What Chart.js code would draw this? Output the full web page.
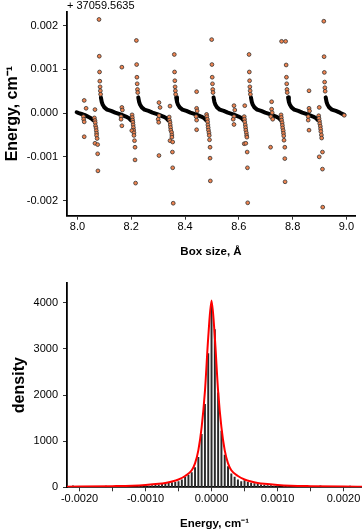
<!DOCTYPE html>
<html>
<head>
<meta charset="utf-8">
<script src="https://cdn.jsdelivr.net/npm/chart.js@4.4.1/dist/chart.umd.min.js"></script>
<style>
  html, body { margin: 0; padding: 0; background: #fff; }
  #wrap { position: relative; width: 362px; height: 531px; }
  #scanChart { position: absolute; left: 0; top: 0; }
  #histChart { position: absolute; left: 0; top: 265px; }
</style>
</head>
<body>
<div id="wrap">
  <canvas id="scanChart" width="362" height="265"></canvas>
  <canvas id="histChart" width="362" height="266"></canvas>
</div>
<script>
// energies are in units of 1e-3 cm-1 (top: relative to 37059.5635)

// dense part of the scan (drawn as a thick band), null = break
const curveBox = [
  7.997, 8.005, 8.015, 8.025, 8.035, 8.045, 8.053, 8.058, 8.058,
  8.087, 8.090, 8.094, 8.100, 8.110, 8.125, 8.140, 8.160, 8.180, 8.192, 8.198, 8.198,
  8.226, 8.229, 8.233, 8.239, 8.249, 8.264, 8.279, 8.299, 8.319, 8.331, 8.337, 8.337,
  8.367, 8.370, 8.374, 8.380, 8.390, 8.405, 8.420, 8.440, 8.460, 8.472, 8.478, 8.478,
  8.506, 8.509, 8.513, 8.519, 8.529, 8.544, 8.559, 8.579, 8.599, 8.611, 8.617, 8.617,
  8.645, 8.648, 8.652, 8.658, 8.668, 8.683, 8.698, 8.718, 8.738, 8.750, 8.756, 8.756,
  8.783, 8.786, 8.790, 8.796, 8.806, 8.821, 8.836, 8.856, 8.876, 8.888, 8.894, 8.894,
  8.923, 8.926, 8.930, 8.936, 8.946, 8.961, 8.976, 8.992
];
const curveEnergy = [
  0.02, 0.00, -0.02, -0.04, -0.07, -0.10, -0.13, -0.16, null,
  0.36, 0.26, 0.19, 0.13, 0.08, 0.05, 0.01, -0.03, -0.08, -0.12, -0.16, null,
  0.36, 0.26, 0.19, 0.13, 0.08, 0.05, 0.01, -0.03, -0.08, -0.12, -0.16, null,
  0.36, 0.26, 0.19, 0.13, 0.08, 0.05, 0.01, -0.03, -0.08, -0.12, -0.16, null,
  0.36, 0.26, 0.19, 0.13, 0.08, 0.05, 0.01, -0.03, -0.08, -0.12, -0.16, null,
  0.36, 0.26, 0.19, 0.13, 0.08, 0.05, 0.01, -0.03, -0.08, -0.12, -0.16, null,
  0.36, 0.26, 0.19, 0.13, 0.08, 0.05, 0.01, -0.03, -0.08, -0.12, -0.16, null,
  0.36, 0.26, 0.19, 0.13, 0.08, 0.05, 0.01, -0.04
];

// separate points (steep parts and outliers)
const dotBox = [
  8.025, 8.032, 8.022, 8.023, 8.025, 8.025, 8.065, 8.063, 8.065, 8.066, 8.067, 8.069, 8.070, 8.071, 8.071, 8.073, 8.065, 8.075, 8.075, 8.076, 8.080, 8.081, 8.082, 8.083, 8.084, 8.085, 8.086,
  8.165, 8.165, 8.167, 8.162, 8.162, 8.165, 8.203, 8.204, 8.205, 8.206, 8.207, 8.208, 8.209, 8.202, 8.210, 8.210, 8.212, 8.214, 8.214, 8.216, 8.219, 8.220, 8.221, 8.222, 8.223, 8.224,
  8.303, 8.307, 8.303, 8.300, 8.302, 8.303, 8.344, 8.341, 8.342, 8.344, 8.345, 8.346, 8.347, 8.350, 8.351, 8.351, 8.344, 8.354, 8.353, 8.354, 8.356, 8.360, 8.361, 8.362, 8.363, 8.364, 8.365,
  8.443, 8.443, 8.445, 8.441, 8.443, 8.443, 8.480, 8.481, 8.483, 8.484, 8.485, 8.486, 8.487, 8.489, 8.490, 8.491, 8.493, 8.493, 8.494, 8.499, 8.500, 8.501, 8.502, 8.503, 8.504,
  8.582, 8.585, 8.582, 8.579, 8.582, 8.622, 8.620, 8.621, 8.622, 8.624, 8.625, 8.626, 8.628, 8.629, 8.630, 8.620, 8.626, 8.631, 8.632, 8.633, 8.638, 8.639, 8.640, 8.641, 8.642, 8.643,
  8.722, 8.722, 8.724, 8.719, 8.726, 8.718, 8.759, 8.757, 8.758, 8.759, 8.761, 8.762, 8.763, 8.765, 8.766, 8.767, 8.768, 8.771, 8.771, 8.772, 8.774, 8.776, 8.777, 8.778, 8.779, 8.780,
  8.861, 8.861, 8.863, 8.858, 8.858, 8.861, 8.899, 8.897, 8.898, 8.900, 8.901, 8.903, 8.904, 8.905, 8.907, 8.908, 8.899, 8.911, 8.911, 8.912, 8.916, 8.917, 8.918, 8.919, 8.920, 8.921, 8.992
];
const dotEnergy = [
  0.29, 0.11, -0.08, -0.14, -0.20, -0.54, 0.08, -0.11, -0.17, -0.22, -0.29, -0.34, -0.40, -0.46, -0.51, -0.58, -0.69, -0.72, -0.93, -1.32, 2.14, 1.30, 0.94, 0.73, 0.60, 0.51, 0.43,
  1.05, 0.13, 0.07, -0.08, -0.14, -0.29, -0.04, -0.10, -0.16, -0.21, -0.27, -0.33, -0.39, -0.40, -0.45, -0.51, -0.63, -0.78, -1.07, -1.60, 1.66, 1.11, 0.82, 0.67, 0.54, 0.47,
  0.24, 0.13, -0.06, -0.14, -0.21, -0.97, 0.16, -0.09, -0.16, -0.21, -0.27, -0.33, -0.39, -0.44, -0.50, -0.55, -0.63, -0.66, -0.89, -1.25, -2.06, 1.34, 0.94, 0.74, 0.60, 0.51, 0.43,
  0.49, 0.11, 0.05, -0.08, -0.16, -0.38, -0.03, -0.08, -0.14, -0.20, -0.27, -0.33, -0.39, -0.45, -0.51, -0.61, -0.78, -1.03, -1.55, 1.68, 1.11, 0.82, 0.67, 0.54, 0.47,
  0.17, 0.07, -0.08, -0.14, -0.26, 0.17, -0.08, -0.14, -0.20, -0.27, -0.33, -0.39, -0.45, -0.51, -0.55, -0.70, -0.69, -0.89, -1.25, -2.05, 1.34, 0.94, 0.74, 0.60, 0.51, 0.43,
  0.26, 0.09, 0.01, -0.08, -0.14, -0.78, 1.64, -0.04, -0.10, -0.16, -0.22, -0.28, -0.34, -0.40, -0.46, -0.52, -0.62, -0.78, -1.04, -1.57, 1.64, 1.10, 0.82, 0.67, 0.54, 0.47,
  0.51, 0.11, 0.05, -0.08, -0.16, -0.39, 0.13, -0.06, -0.12, -0.18, -0.24, -0.30, -0.36, -0.42, -0.50, -0.57, -1.00, -0.89, -1.28, -2.15, 2.10, 1.29, 0.93, 0.71, 0.58, 0.50, -0.05
];
const boxTicks = [8.0, 8.2, 8.4, 8.6, 8.8, 9.0];
const energyTicks = [-2, -1, 0, 1, 2];

// histogram of the energies
const binEnergy = [
  -2.10, -1.60, -1.30, -1.10, -1.05, -1.00, -0.95, -0.90, -0.85, -0.80, -0.75, -0.70, -0.65, -0.60,
  -0.55, -0.50, -0.45, -0.40, -0.35, -0.30, -0.25, -0.20, -0.15, -0.10, -0.05, 0.00,
  0.05, 0.10, 0.15, 0.20, 0.25, 0.30, 0.35, 0.40, 0.45, 0.50, 0.55, 0.60, 0.65, 0.70,
  0.75, 0.80, 0.85, 0.90, 0.95, 1.00, 1.10, 1.15, 1.30, 1.50, 1.65, 2.10
];
const binDensity = [
  30, 25, 20, 25, 20, 35, 25, 40, 45, 55, 80, 85, 95, 100,
  110, 125, 160, 215, 265, 320, 430, 650, 1150, 1800, 2900, 3950,
  3420, 2050, 1220, 700, 450, 290, 220, 160, 125, 145, 110, 90, 80, 70,
  55, 50, 40, 35, 25, 30, 25, 20, 25, 20, 30, 25
];
// fitted curve (red)
const fitEnergy = [-2.3, -2.0, -1.5, -1.2, -1.0, -0.8, -0.7, -0.6, -0.5, -0.4, -0.3, -0.25, -0.2, -0.15, -0.1, -0.05, 0,
  0.05, 0.1, 0.15, 0.2, 0.25, 0.3, 0.4, 0.5, 0.6, 0.7, 0.8, 1.0, 1.2, 1.5, 2.0, 2.3];
const fitDensity = [12, 15, 25, 35, 50, 75, 95, 125, 170, 245, 370, 520, 800, 1300, 2080, 3250, 4050,
  3250, 2080, 1300, 800, 520, 370, 245, 170, 125, 95, 75, 50, 35, 25, 15, 12];
const histTicks = [-2, -1.5, -1, -0.5, 0, 0.5, 1, 1.5, 2];
const densityTicks = [0, 1000, 2000, 3000, 4000];

Chart.defaults.font.family = '"Liberation Sans", Arial, sans-serif';
Chart.defaults.color = '#000';

function xy(xs, ys) {
    return xs.map(function(x, i) { return { x: x, y: ys[i] }; });
}

// R-like axis: L-shaped border, short outward ticks, no grid
const tickGrid = { drawOnChartArea: false, drawTicks: true, tickLength: 4, tickWidth: 1, tickColor: '#333' };
const axisBorder = { display: true, color: '#000', width: 1.8 };

// offset note above the energy axis
const offsetLabel = {
    id: 'offsetLabel',
    afterDraw(chart) {
        const ctx = chart.ctx;
        ctx.save();
        ctx.font = '11px "Liberation Sans", Arial, sans-serif';
        ctx.fillStyle = '#000';
        ctx.textBaseline = 'middle';
        ctx.fillText('+ 37059.5635', chart.chartArea.left, 6);
        ctx.restore();
    }
};

new Chart(document.getElementById('scanChart'), {
    type: 'scatter',
    data: {
        datasets: [
            {
                data: xy(dotBox, dotEnergy),
                pointRadius: 1.9,
                pointBackgroundColor: '#ef8450',
                pointBorderColor: '#333',
                pointBorderWidth: 0.8,
                order: 0
            },
            {
                data: xy(curveBox, curveEnergy),
                showLine: true,
                spanGaps: false,
                borderColor: '#000',
                borderWidth: 4,
                borderCapStyle: 'round',
                borderJoinStyle: 'round',
                pointRadius: 0,
                order: 1
            }
        ]
    },
    options: {
        responsive: false,
        animation: false,
        events: [],
        layout: { padding: { left: 0, right: 7, top: 10, bottom: 0 } },
        plugins: { legend: { display: false }, tooltip: { enabled: false } },
        scales: {
            x: {
                type: 'linear', min: 7.961, max: 9.032,
                afterFit: function(s) { s.height = 49.3; },
                afterBuildTicks: function(s) { s.ticks = boxTicks.map(function(v) { return { value: v }; }); },
                ticks: { callback: function(v) { return v.toFixed(1); }, font: { size: 11 }, padding: 1, maxRotation: 0, autoSkip: false },
                grid: tickGrid,
                border: axisBorder,
                title: { display: true, text: 'Box size, Å', font: { size: 11.5, weight: 'bold' }, padding: { top: 0, bottom: 6 } }
            },
            y: {
                type: 'linear', min: -2.345, max: 2.32,
                afterFit: function(s) { s.width = 67; },
                afterBuildTicks: function(s) { s.ticks = energyTicks.map(function(v) { return { value: v }; }); },
                ticks: { callback: function(v) { return (v / 1000).toFixed(3); }, font: { size: 11 }, padding: 5, autoSkip: false },
                grid: tickGrid,
                border: axisBorder,
                title: { display: true, text: 'Energy, cm⁻¹', font: { size: 16, weight: 'bold' }, padding: { top: 3, bottom: 0 } }
            }
        }
    },
    plugins: [offsetLabel]
});

new Chart(document.getElementById('histChart'), {
    type: 'bar',
    data: {
        datasets: [
            {
                type: 'line',
                data: xy(fitEnergy, fitDensity),
                borderColor: '#ff0000',
                borderWidth: 2,
                pointRadius: 0,
                cubicInterpolationMode: 'monotone',
                order: 0
            },
            {
                type: 'bar',
                data: xy(binEnergy, binDensity),
                backgroundColor: '#2a2a2a',
                barThickness: 1.3,
                order: 1
            }
        ]
    },
    options: {
        responsive: false,
        animation: false,
        events: [],
        layout: { padding: { left: 0, right: 0, top: 18, bottom: 0 } },
        plugins: { legend: { display: false }, tooltip: { enabled: false } },
        scales: {
            x: {
                type: 'linear', min: -2.19, max: 2.28, offset: false,
                afterFit: function(s) { s.height = 43.7; },
                afterBuildTicks: function(s) { s.ticks = histTicks.map(function(v) { return { value: v }; }); },
                ticks: {
                    callback: function(v) { return Number.isInteger(v) ? (v / 1000).toFixed(4) : ''; },
                    font: { size: 11 }, padding: 1, maxRotation: 0, autoSkip: false
                },
                grid: Object.assign({}, tickGrid, { offset: false }),
                border: axisBorder,
                title: { display: true, text: 'Energy, cm⁻¹', font: { size: 11.5, weight: 'bold' }, padding: { top: 0, bottom: 0 } }
            },
            y: {
                type: 'linear', min: 0, max: 4430,
                afterFit: function(s) { s.width = 67; },
                afterBuildTicks: function(s) { s.ticks = densityTicks.map(function(v) { return { value: v }; }); },
                ticks: { callback: function(v) { return String(v); }, font: { size: 11 }, padding: 5, autoSkip: false },
                grid: tickGrid,
                border: axisBorder,
                title: { display: true, text: 'density', font: { size: 16, weight: 'bold' }, padding: { top: 10, bottom: 0 } }
            }
        }
    }
});
</script>
</body>
</html>
